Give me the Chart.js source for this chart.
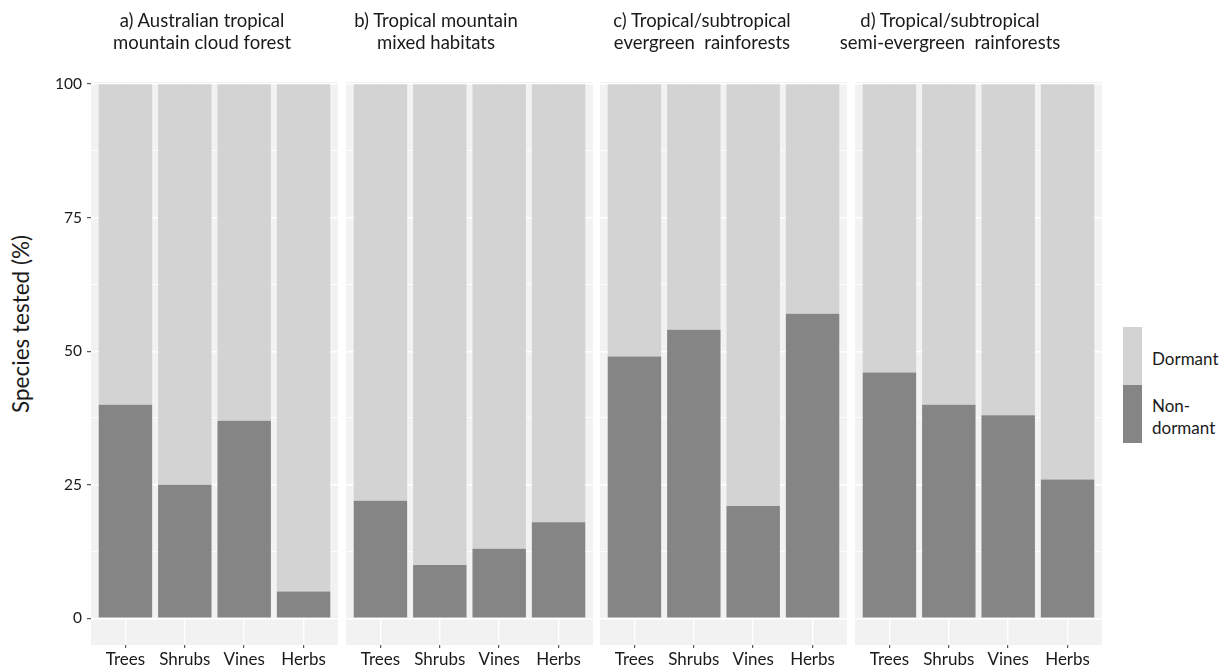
<!DOCTYPE html>
<html>
<head>
<meta charset="utf-8">
<script src="https://cdn.jsdelivr.net/npm/chart.js@4.4.0/dist/chart.umd.min.js"></script>
<style>
  body { margin: 0; background: #fff; font-family: Lato, sans-serif; color: #1a1a1a; }
  #wrap { position: relative; width: 1232px; height: 669px; overflow: hidden; }
  .panel { position: absolute; top: 0; }
  .ptitle { position: absolute; top: 9px; width: 300px; margin-left: -150px; text-align: center;
            font-size: 18.5px; line-height: 22px; white-space: pre; }
  #ytitle { position: absolute; left: 20px; top: 324px; transform: translate(-50%, -50%) rotate(-90deg);
            font-size: 22.5px; white-space: nowrap; }
  .key { position: absolute; left: 1123px; width: 19px; }
  .klab { position: absolute; left: 1152px; font-size: 17px; line-height: 22px; }
</style>
</head>
<body>
<div id="wrap">
  <div id="ytitle">Species tested (%)</div>
</div>
<script>
// data
const categories = ['Trees', 'Shrubs', 'Vines', 'Herbs'];
const panelTitles = [
    'a) Australian tropical\nmountain cloud forest',
    'b) Tropical mountain\nmixed habitats',
    'c) Tropical/subtropical\nevergreen  rainforests',
    'd) Tropical/subtropical\nsemi-evergreen  rainforests'
];
const nonDormantA = [40, 25, 37, 5];
const dormantA = [60, 75, 63, 95];
const nonDormantB = [22, 10, 13, 18];
const dormantB = [78, 90, 87, 82];
const nonDormantC = [49, 54, 21, 57];
const dormantC = [51, 46, 79, 43];
const nonDormantD = [46, 40, 38, 26];
const dormantD = [54, 60, 62, 74];
const yTicks = [0, 25, 50, 75, 100];
const yMinorTicks = [12.5, 37.5, 62.5, 87.5];
const seriesNames = ['Dormant', 'Non-dormant'];

const darkGrey = '#858585';
const lightGrey = '#d3d3d3';
const panelGrey = '#f2f2f2';

// panel layout (px)
const panelLeft = [0, 346, 600, 855];
const panelWidth = [338, 247, 247, 247];
const titleCenter = [202, 436, 702, 950];

const panelBg = {
    id: 'panelBg',
    beforeDraw(chart) {
        const a = chart.chartArea;
        chart.ctx.save();
        chart.ctx.fillStyle = panelGrey;
        chart.ctx.fillRect(a.left, a.top, a.right - a.left, a.bottom - a.top);
        chart.ctx.restore();
    }
};

const wrap = document.getElementById('wrap');

function makePanel(i, nonDormant, dormant) {
    const div = document.createElement('div');
    div.className = 'panel';
    div.style.left = panelLeft[i] + 'px';
    const canvas = document.createElement('canvas');
    canvas.width = panelWidth[i];
    canvas.height = 669;
    div.appendChild(canvas);
    wrap.appendChild(div);

    const t = document.createElement('div');
    t.className = 'ptitle';
    t.style.left = titleCenter[i] + 'px';
    t.textContent = panelTitles[i];
    wrap.appendChild(t);

    const showY = i === 0;
    const allY = yTicks.concat(yMinorTicks).sort((p, q) => p - q);
    const isMajor = v => yTicks.indexOf(v) !== -1;

    new Chart(canvas, {
        type: 'bar',
        data: {
            datasets: [{
                label: seriesNames[1],
                data: nonDormant.map((v, k) => ({ x: k, y: v })),
                backgroundColor: darkGrey,
                barPercentage: 0.9,
                categoryPercentage: 1
            }, {
                label: seriesNames[0],
                data: dormant.map((v, k) => ({ x: k, y: v })),
                backgroundColor: lightGrey,
                barPercentage: 0.9,
                categoryPercentage: 1
            }]
        },
        options: {
            responsive: false,
            animation: false,
            layout: { padding: { top: 82, left: 0, right: 0, bottom: 0 } },
            plugins: { legend: { display: false }, tooltip: { enabled: false } },
            scales: {
                x: {
                    type: 'linear',
                    stacked: true,
                    offset: false,
                    min: -0.58,
                    max: 3.58,
                    afterBuildTicks: s => { s.ticks = categories.map((c, k) => ({ value: k })); },
                    afterFit: s => { s.height = 24; },
                    border: { display: false },
                    grid: { offset: false, color: '#ffffff', lineWidth: 1.4, tickColor: '#333333', tickLength: 3, tickWidth: 1 },
                    ticks: {
                        callback: v => categories[v],
                        autoSkip: false, maxRotation: 0, padding: 1,
                        color: '#1a1a1a',
                        font: { family: 'Lato', size: 17 }
                    }
                },
                y: {
                    stacked: true,
                    min: -5,
                    max: 100.4,
                    afterBuildTicks: s => { s.ticks = allY.map(v => ({ value: v })); },
                    afterFit: s => { s.width = showY ? 91 : 0; },
                    border: { display: false },
                    grid: {
                        color: '#ffffff',
                        lineWidth: ctx => isMajor(ctx.tick.value) ? 1.4 : 0.8,
                        drawTicks: showY,
                        tickLength: 4,
                        tickWidth: 1,
                        tickColor: ctx => isMajor(ctx.tick.value) ? '#333333' : 'rgba(0,0,0,0)'
                    },
                    ticks: {
                        display: showY,
                        callback: v => isMajor(v) ? String(v) : '',
                        padding: 5,
                        color: '#1a1a1a',
                        font: { family: 'Lato', size: 15.5 }
                    }
                }
            }
        },
        plugins: [panelBg]
    });
}

makePanel(0, nonDormantA, dormantA);
makePanel(1, nonDormantB, dormantB);
makePanel(2, nonDormantC, dormantC);
makePanel(3, nonDormantD, dormantD);

// legend
const keyTop = [327, 385];
const keyColor = [lightGrey, darkGrey];
const labTop = [348, 395];
seriesNames.forEach((name, k) => {
    const key = document.createElement('div');
    key.className = 'key';
    key.style.top = keyTop[k] + 'px';
    key.style.height = '58px';
    key.style.background = keyColor[k];
    wrap.appendChild(key);
    const lab = document.createElement('div');
    lab.className = 'klab';
    lab.style.top = labTop[k] + 'px';
    lab.innerHTML = name === 'Non-dormant' ? 'Non-<br>dormant' : name;
    wrap.appendChild(lab);
});
</script>
</body>
</html>
